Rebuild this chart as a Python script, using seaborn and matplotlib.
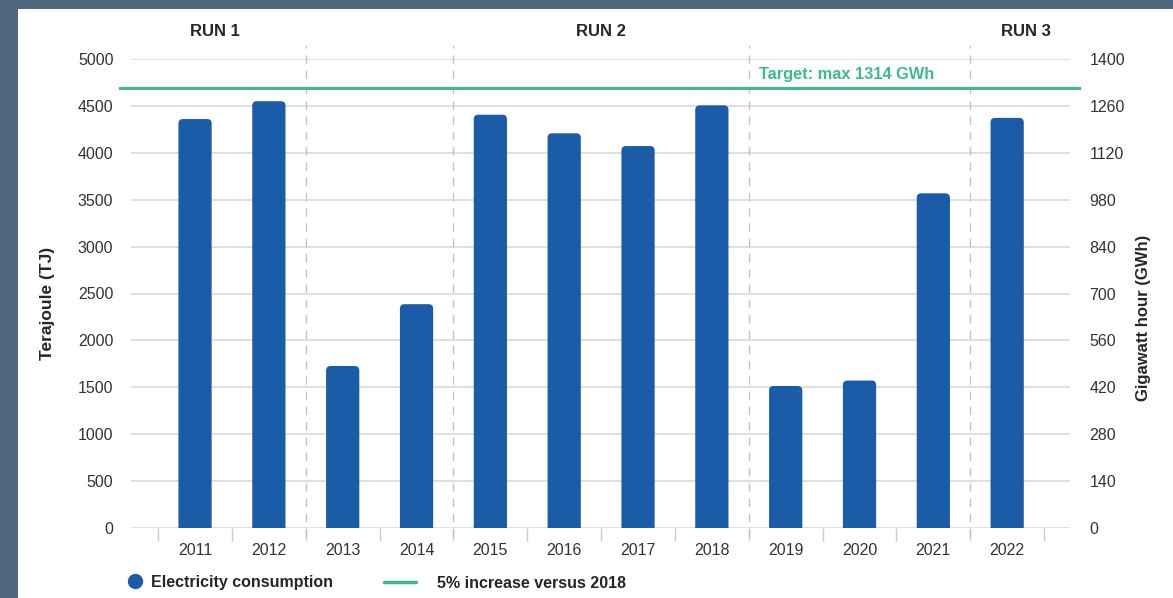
import numpy as np
import pandas as pd
import seaborn as sns
import matplotlib.pyplot as plt
from matplotlib.patches import Rectangle, FancyBboxPatch
from matplotlib.lines import Line2D

# Data
years = ["2011", "2012", "2013", "2014", "2015", "2016",
         "2017", "2018", "2019", "2020", "2021", "2022"]
consumption_tj = [4360, 4550, 1727, 2386, 4406, 4208,
                  4072, 4506, 1514, 1572, 3568, 4372]
target_gwh = 1314
gwh_ticks = [0, 140, 280, 420, 560, 700, 840, 980, 1120, 1260, 1400]
tj_ticks = [0, 500, 1000, 1500, 2000, 2500, 3000, 3500, 4000, 4500, 5000]
run_labels = ["RUN 1", "RUN 2", "RUN 3"]
run_breaks = [1.5, 3.5, 7.5, 10.5]

BLUE = "#1b5ca8"
GREEN = "#3dba8a"
GRID = "#dcdcdc"

sns.set_style("white")
plt.rcParams["font.family"] = ["Liberation Sans", "DejaVu Sans"]

df = pd.DataFrame({"year": years, "tj": consumption_tj})

fig = plt.figure(figsize=(11.73, 5.98), dpi=100)
fig.patch.set_facecolor("#51677f")
fig.patches.append(Rectangle((18 / 1173, 0), 1, 589 / 598, transform=fig.transFigure,
                             facecolor="white", edgecolor="none", zorder=-5))

ax = fig.add_axes([119 / 1173, 1 - 528 / 598, 962 / 1173, 469 / 598])
ax.set_facecolor("none")

sns.barplot(data=df, x="year", y="tj", color=BLUE, width=0.45, ax=ax, zorder=3)

ax.set_xlim(-1.03, 12.0)
ax.set_ylim(0, 5000)

# rounded tops for the bars
px_x = 962 / 13.03
px_y = 469 / 5000
r = 4.5 / px_x
for p in list(ax.patches):
    x0, w, h = p.get_x(), p.get_width(), p.get_height()
    p.remove()
    ax.add_patch(FancyBboxPatch((x0, -80), w, h + 80,
                                boxstyle=f"round,pad=0,rounding_size={r}",
                                mutation_aspect=(1 / px_y) / (1 / px_x),
                                facecolor=BLUE, edgecolor="none", zorder=3))

# gridlines
ax.hlines(tj_ticks, -0.87, 11.85, color=GRID, lw=1.3, zorder=1)

# run separators
for b in run_breaks:
    ax.plot([b, b], [-100, 5150], color="#c4c4c4", lw=1, ls=(0, (6, 5)),
            clip_on=False, zorder=1)

# target line
target_tj = target_gwh / 1400 * 5000
ax.axhline(target_tj, color=GREEN, lw=2.2, zorder=4)
ax.text(7.64, target_tj + 140, f"Target: max {target_gwh} GWh", color=GREEN,
        fontsize=11.8, fontweight="bold", ha="left", va="center")

# run labels
for lab, xpos in zip(run_labels, [0.27, 5.5, 11.26]):
    ax.text(xpos, 1.0576, lab, transform=ax.get_xaxis_transform(),
            ha="center", va="center", fontsize=12, fontweight="bold")

sns.despine(ax=ax, left=True, right=True, top=True, bottom=True)

ax.set_yticks(tj_ticks)
ax.set_yticklabels([str(t) for t in tj_ticks])
ax.tick_params(axis="y", length=0, pad=4, labelsize=11.5, labelcolor="#333333")
ax.set_xticks(range(len(years)))
ax.set_xticklabels(years)
ax.set_xticks(np.arange(-0.5, len(years), 1), minor=True)
ax.tick_params(axis="x", which="major", length=0, pad=11, labelsize=11.5,
               labelcolor="#333333")
ax.tick_params(axis="x", which="minor", bottom=True, length=9, width=1,
               color="#cccccc")
ax.set_xlabel("")
ax.set_ylabel("Terajoule (TJ)", fontsize=12.5, fontweight="bold")
ax.yaxis.set_label_coords(-0.0665, 0.478)

ax2 = ax.twinx()
ax2.set_ylim(0, 1400)
ax2.set_yticks(gwh_ticks)
ax2.set_yticklabels([str(t) for t in gwh_ticks])
ax2.tick_params(axis="y", length=0, pad=6, labelsize=11.5, labelcolor="#333333")
for s in ax2.spines.values():
    s.set_visible(False)
ax2.set_ylabel("Gigawatt hour (GWh)", fontsize=12, fontweight="bold")
ax2.yaxis.set_label_coords(1.0575, 0.448)

# legend
h1 = [Line2D([], [], marker="o", color=BLUE, ls="none", markersize=10)]
h2 = [Line2D([], [], color=GREEN, lw=2.5)]
leg1 = fig.legend(h1, ["Electricity consumption"], loc="center left",
                  bbox_to_anchor=(122 / 1173, 1 - 582 / 598), frameon=False,
                  handlelength=1.6, handletextpad=0.2, borderpad=0, borderaxespad=0,
                  prop={"size": 11.5, "weight": "bold"})
leg2 = fig.legend(h2, ["5% increase versus 2018"], loc="center left",
                  bbox_to_anchor=(384 / 1173, 1 - 583 / 598), frameon=False,
                  handlelength=2.0, handletextpad=1.3, borderpad=0, borderaxespad=0,
                  prop={"size": 11.5, "weight": "bold"})

fig.savefig("out.png", dpi=100, facecolor=fig.get_facecolor())
